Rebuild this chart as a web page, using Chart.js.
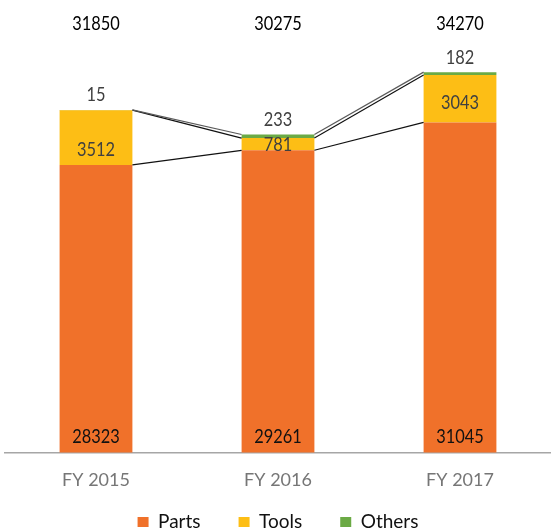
<!DOCTYPE html>
<html>
<head>
<meta charset="utf-8">
<script src="https://cdn.jsdelivr.net/npm/chart.js@4"></script>
<style>
  body { margin: 0; background: #fff; }
  #wrap { width: 551px; height: 532px; }
</style>
</head>
<body>
<div id="wrap"><canvas id="myChart"></canvas></div>
<script>
// values
var categories = ['FY 2015', 'FY 2016', 'FY 2017'];
var parts = [28323, 29261, 31045];
var tools = [3512, 781, 3043];
var others = [15, 233, 182];
var totals = [31850, 30275, 34270];

var FONT = 'Lato, "Noto Sans", sans-serif';

// axis does not start at zero in the original
var yMin = 9890;
var yMax = 36330;

var toolsNudge = [12, 0, 4];

// labels in the original use a narrow face, so squeeze a bit
function label(ctx, txt, x, y) {
    ctx.save();
    ctx.translate(x, y);
    ctx.scale(0.82, 1);
    ctx.fillText(txt, 0, 0);
    ctx.restore();
}

var extras = {
    id: 'extras',
    afterDatasetsDraw: function(chart) {
        var ctx = chart.ctx;
        var area = chart.chartArea;
        var metas = [0, 1, 2].map(function(i) { return chart.getDatasetMeta(i); });

        // connector lines between stacked segments
        ctx.save();
        ctx.lineWidth = 1.2;
        for (var d = 0; d < 3; d++) {
            ctx.strokeStyle = d == 2 ? '#5a5a5a' : '#111';
            for (var i = 0; i < categories.length - 1; i++) {
                var a = metas[d].data[i], b = metas[d].data[i + 1];
                ctx.beginPath();
                ctx.moveTo(a.x + a.width / 2, a.y);
                ctx.lineTo(b.x - b.width / 2, b.y);
                ctx.stroke();
            }
        }
        ctx.restore();

        ctx.save();
        ctx.font = '20px ' + FONT;
        ctx.textAlign = 'center';
        ctx.textBaseline = 'middle';
        for (var i = 0; i < categories.length; i++) {
            var p = metas[0].data[i], t = metas[1].data[i], o = metas[2].data[i];
            ctx.fillStyle = '#111';
            label(ctx, parts[i], p.x, area.bottom - 16);
            ctx.fillStyle = '#404040';
            label(ctx, tools[i], t.x, (t.y + t.base) / 2 + toolsNudge[i]);
            label(ctx, others[i], o.x, o.y - 15);
            ctx.fillStyle = '#000';
            label(ctx, totals[i], o.x, 24);
        }
        ctx.restore();
    }
};

var ctx = document.getElementById('myChart').getContext('2d');
var myChart = new Chart(ctx, {
    type: 'bar',
    data: {
        labels: categories,
        datasets: [{
            label: 'Parts',
            data: parts,
            backgroundColor: '#F0712A'
        }, {
            label: 'Tools',
            data: tools,
            backgroundColor: '#FDBE15'
        }, {
            label: 'Others',
            data: others,
            backgroundColor: '#6BAA45'
        }]
    },
    options: {
        responsive: true,
        maintainAspectRatio: false,
        animation: false,
        categoryPercentage: 1,
        barPercentage: 0.4,
        layout: { padding: { left: 5, right: 0, top: 40, bottom: -9.5 } },
        scales: {
            x: {
                stacked: true,
                grid: { display: false, drawTicks: false },
                border: { display: true, color: '#a6a6a6', width: 1.5 },
                ticks: { color: '#767676', padding: 17, font: { family: FONT, size: 18 } },
                afterFit: function(scale) { scale.height = 60; }
            },
            y: {
                stacked: true,
                display: false,
                min: yMin,
                max: yMax
            }
        },
        plugins: {
            legend: {
                position: 'bottom',
                labels: {
                    color: '#111',
                    boxWidth: 11,
                    boxHeight: 10,
                    padding: 0,
                    font: { family: FONT, size: 19 },
                    // wide gaps between items without the padding also growing the legend vertically
                    generateLabels: function(chart) {
                        var items = Chart.defaults.plugins.legend.labels.generateLabels(chart);
                        items.forEach(function(it, i) {
                            if (i < items.length - 1) it.text = it.text + '\u2003\u2003\u2002';
                        });
                        return items;
                    }
                }
            },
            tooltip: { enabled: false }
        }
    },
    plugins: [extras]
});
</script>
</body>
</html>
